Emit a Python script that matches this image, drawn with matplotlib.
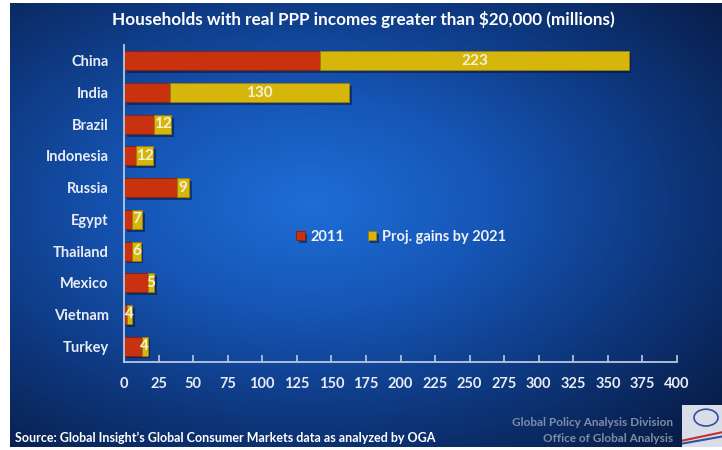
import numpy as np
import matplotlib
matplotlib.use("Agg")
import matplotlib.pyplot as plt
import matplotlib.patheffects as pe
from matplotlib.colors import LinearSegmentedColormap

countries = ["China", "India", "Brazil", "Indonesia", "Russia", "Egypt",
             "Thailand", "Mexico", "Vietnam", "Turkey"]
base_2011 = [142, 33, 22, 9, 38, 6, 6, 17, 2, 13]
gains_2021 = [223, 130, 12, 12, 9, 7, 6, 5, 4, 4]
xticks = list(range(0, 401, 25))

title = "Households with real PPP incomes greater than $20,000 (millions)"
source = "Source: Global Insight\u2019s Global Consumer Markets data as analyzed by OGA"

plt.rcParams['font.family'] = ['Lato', 'DejaVu Sans']

fig = plt.figure(figsize=(7.22, 4.5), dpi=100)
fig.patch.set_facecolor("white")

# background panel gradient
bg = fig.add_axes([10/722, 3/450, 712/722, 444/450])
bg.set_axis_off()
ny, nx = 220, 360
yy, xx = np.mgrid[0:ny, 0:nx]
xs = xx / nx
ys = yy / ny
d = np.sqrt(((xs - 0.42) / 0.75) ** 2 + ((ys - 0.45) / 0.72) ** 2)
d = np.clip(d, 0, 1)
cmap = LinearSegmentedColormap.from_list(
    "bgc", ["#1e6ed6", "#1656b6", "#0e387f", "#081d48"])
bg.imshow(d, cmap=cmap, aspect="auto", extent=[0, 1, 0, 1], origin="upper",
          vmin=0, vmax=1)
bg.set_xlim(0, 1)
bg.set_ylim(0, 1)

ax = fig.add_axes([124/722, 1 - 362/450, 553/722, (362 - 45)/450])
ax.set_facecolor("none")
pos = np.arange(len(countries))
shadow = [pe.SimplePatchShadow(offset=(2, -2), alpha=0.5, shadow_rgbFace="#051030"), pe.Normal()]
b1 = ax.barh(pos, base_2011, height=0.6, color="#c8320f", label="2011",
             edgecolor="#8a1e08", linewidth=0.6)
b2 = ax.barh(pos, gains_2021, left=base_2011, height=0.6, color="#d6b60a",
             label="Proj. gains by 2021", edgecolor="#9a8006", linewidth=0.6)
for p in list(b1) + list(b2):
    p.set_path_effects(shadow)

for i, (b, g) in enumerate(zip(base_2011, gains_2021)):
    ax.text(b + g / 2, i, str(g), ha="center", va="center", color="#f4f0d8",
            fontsize=11, fontweight="bold")

ax.set_ylim(9.5, -0.5)
ax.set_xlim(0, 400)
ax.set_xticks(xticks)
ax.set_xticklabels([str(t) for t in xticks], color="#e8ecf4", fontsize=10.5,
                   fontweight="bold")
ax.set_yticks(pos)
ax.set_yticklabels(countries, color="#e8ecf4", fontsize=10.5, fontweight="bold")
ax.tick_params(axis="y", length=0, pad=11)
ax.tick_params(axis="x", direction="in", length=5, color="#b8c8e0", width=1.2, pad=11)
for s in ["top", "right"]:
    ax.spines[s].set_visible(False)
for s in ["left", "bottom"]:
    ax.spines[s].set_color("#b8c8e0")
    ax.spines[s].set_linewidth(1.3)

leg = ax.legend(loc="center", bbox_to_anchor=((401 - 124)/553, 1 - (237 - 45)/317),
                frameon=False, ncol=2, fontsize=10.5, handlelength=0.6,
                handleheight=0.6, handletextpad=0.4, columnspacing=1.6)
for t in leg.get_texts():
    t.set_color("#eef0f6")
    t.set_fontweight("bold")

fig.text(363/722, 1 - 20/450, title, ha="center", va="center", color="white",
         fontsize=12.3, fontweight="bold")
fig.text(15/722, 1 - 438/450, source, ha="left", va="center", color="white",
         fontsize=9, fontweight="bold")
fig.text(673/722, 1 - 423/450, "Global Policy Analysis Division", ha="right",
         va="center", color="#7f8da6", fontsize=8.5, fontweight="bold")
fig.text(673/722, 1 - 439/450, "Office of Global Analysis", ha="right",
         va="center", color="#7f8da6", fontsize=8.5, fontweight="bold")

# logo box
logo = fig.add_axes([682/722, 3/450, 40/722, 42/450])
logo.set_facecolor("#d8dde8")
logo.set_xticks([])
logo.set_yticks([])
for s in logo.spines.values():
    s.set_visible(False)
logo.plot([0, 1], [0.15, 0.35], color="#c03030", lw=1.5)
logo.plot([0, 1], [0.08, 0.25], color="#3050a0", lw=1.5)
logo.add_patch(matplotlib.patches.Ellipse((0.6, 0.7), 0.6, 0.4, fill=False,
                                          ec="#3050a0", lw=1.2))
logo.set_xlim(0, 1)
logo.set_ylim(0, 1)

fig.savefig("out.png", dpi=100, facecolor=fig.get_facecolor())
